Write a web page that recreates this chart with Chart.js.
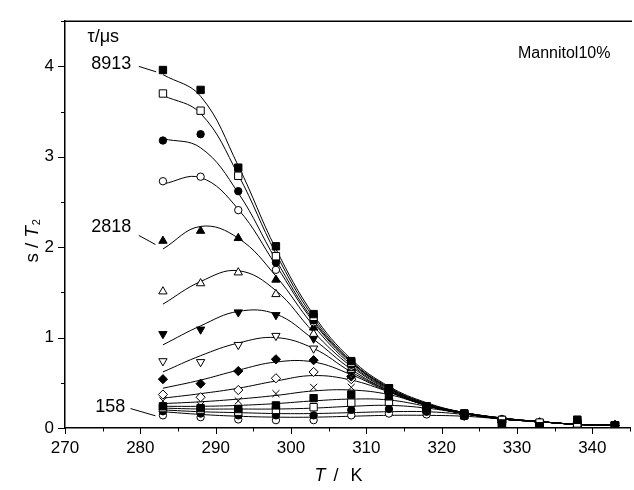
<!DOCTYPE html>
<html>
<head>
<meta charset="utf-8">
<script src="https://cdn.jsdelivr.net/npm/chart.js@4.4.1/dist/chart.umd.min.js"></script>
<style>
  html, body { margin: 0; padding: 0; overflow: hidden; background: #fff; }
  #wrap { width: 640px; height: 490px; }
</style>
</head>
<body>
<div id="wrap"><canvas id="chart" width="640" height="490"></canvas></div>
<script>
// temperatures (K)
const temps = [283, 288, 293, 298, 303, 308, 313, 318, 323, 328, 333, 338, 343];

// measured s/T2, series from top (tau = 8913 us) to bottom (tau = 158 us)
const p01 = [3.96, 3.74, 2.88, 2.01, 1.26, 0.74, 0.44, 0.24, 0.16, 0.05, 0.02, 0.09, 0.03];
const p02 = [3.70, 3.51, 2.79, 1.90, 1.23, 0.72, 0.44, 0.24, 0.16, 0.09, 0.06, 0.05, 0.03];
const p03 = [3.18, 3.25, 2.62, 1.83, 1.19, 0.70, 0.43, 0.23, 0.15, 0.09, 0.06, 0.04, 0.03];
const p04 = [2.73, 2.78, 2.41, 1.75, 1.17, 0.68, 0.43, 0.23, 0.15, 0.09, 0.06, 0.04, 0.03];
const p05 = [2.07, 2.18, 2.10, 1.64, 1.11, 0.66, 0.42, 0.22, 0.15, 0.09, 0.06, 0.04, 0.03];
const p06 = [1.51, 1.60, 1.72, 1.48, 1.04, 0.64, 0.42, 0.22, 0.15, 0.09, 0.06, 0.04, 0.03];
const p07 = [1.04, 1.09, 1.28, 1.25, 0.99, 0.62, 0.41, 0.22, 0.15, 0.09, 0.06, 0.04, 0.03];
const p08 = [0.74, 0.73, 0.92, 1.02, 0.88, 0.60, 0.41, 0.22, 0.15, 0.09, 0.06, 0.04, 0.03];
const p09 = [0.54, 0.49, 0.63, 0.76, 0.75, 0.57, 0.40, 0.22, 0.15, 0.09, 0.06, 0.04, 0.03];
const p10 = [0.37, 0.34, 0.42, 0.55, 0.62, 0.54, 0.40, 0.22, 0.15, 0.09, 0.06, 0.04, 0.03];
const p11 = [0.30, 0.25, 0.30, 0.38, 0.45, 0.45, 0.38, 0.22, 0.14, 0.09, 0.06, 0.04, 0.03];
const p12 = [0.24, 0.22, 0.21, 0.25, 0.33, 0.37, 0.35, 0.21, 0.14, 0.05, 0.02, 0.09, 0.03];
const p13 = [0.22, 0.20, 0.18, 0.20, 0.23, 0.28, 0.29, 0.20, 0.14, 0.08, 0.05, 0.06, 0.03];
const p14 = [0.185, 0.16, 0.14, 0.14, 0.14, 0.20, 0.21, 0.18, 0.13, 0.07, 0.04, 0.04, 0.03];
const p15 = [0.14, 0.12, 0.095, 0.087, 0.087, 0.14, 0.16, 0.15, 0.13, 0.10, 0.06, 0.02, 0.02];

// fitted curves at the same temperatures
const f01 = [3.91, 3.67, 2.90, 1.98, 1.25, 0.76, 0.46, 0.28, 0.17, 0.11, 0.07, 0.04, 0.03];
const f02 = [3.68, 3.48, 2.80, 1.93, 1.22, 0.74, 0.45, 0.27, 0.17, 0.11, 0.07, 0.04, 0.03];
const f03 = [3.20, 3.10, 2.60, 1.86, 1.19, 0.73, 0.44, 0.27, 0.17, 0.11, 0.07, 0.04, 0.03];
const f04 = [2.70, 2.77, 2.42, 1.80, 1.17, 0.72, 0.44, 0.26, 0.17, 0.11, 0.07, 0.04, 0.03];
const f05 = [1.98, 2.23, 2.10, 1.68, 1.13, 0.70, 0.43, 0.26, 0.17, 0.11, 0.07, 0.04, 0.03];
const f06 = [1.37, 1.62, 1.74, 1.52, 1.06, 0.68, 0.42, 0.25, 0.16, 0.10, 0.07, 0.04, 0.03];
const f07 = [0.92, 1.13, 1.29, 1.26, 0.98, 0.65, 0.41, 0.25, 0.16, 0.10, 0.07, 0.04, 0.03];
const f08 = [0.62, 0.80, 0.94, 1.00, 0.88, 0.62, 0.41, 0.25, 0.16, 0.10, 0.07, 0.04, 0.03];
const f09 = [0.44, 0.53, 0.64, 0.73, 0.73, 0.59, 0.40, 0.25, 0.16, 0.10, 0.07, 0.04, 0.03];
const f10 = [0.33, 0.38, 0.44, 0.52, 0.58, 0.53, 0.40, 0.25, 0.16, 0.10, 0.07, 0.04, 0.03];
const f11 = [0.27, 0.29, 0.32, 0.36, 0.41, 0.42, 0.37, 0.25, 0.16, 0.10, 0.07, 0.04, 0.03];
const f12 = [0.24, 0.24, 0.25, 0.27, 0.30, 0.32, 0.31, 0.24, 0.16, 0.10, 0.07, 0.04, 0.03];
const f13 = [0.22, 0.21, 0.21, 0.21, 0.22, 0.24, 0.25, 0.22, 0.16, 0.10, 0.07, 0.04, 0.03];
const f14 = [0.20, 0.18, 0.17, 0.16, 0.16, 0.17, 0.18, 0.18, 0.15, 0.10, 0.07, 0.04, 0.03];
const f15 = [0.18, 0.15, 0.13, 0.12, 0.12, 0.13, 0.14, 0.14, 0.13, 0.10, 0.07, 0.04, 0.03];

const xTicks = [270, 280, 290, 300, 310, 320, 330, 340];
const yTicks = [0, 1, 2, 3, 4];
const tauLabels = ["8913", "2818", "158"];

const points = [p01, p02, p03, p04, p05, p06, p07, p08, p09, p10, p11, p12, p13, p14, p15];
const fits = [f01, f02, f03, f04, f05, f06, f07, f08, f09, f10, f11, f12, f13, f14, f15];

// marker per series: [shape, filled, rotation, radius]
const markers = [
  ["rect", true, 0, 5.2], ["rect", false, 0, 5.2],
  ["circle", true, 0, 3.7], ["circle", false, 0, 3.7],
  ["triangle", true, 0, 4.8], ["triangle", false, 0, 4.8],
  ["triangle", true, 180, 4.8], ["triangle", false, 180, 4.8],
  ["rectRot", true, 0, 4.6], ["rectRot", false, 0, 4.6],
  ["crossRot", false, 0, 5],
  ["rect", true, 0, 5.2], ["rect", false, 0, 5.2],
  ["circle", true, 0, 3.7], ["circle", false, 0, 3.7]
];

const FONT = "'Liberation Sans', Arial, sans-serif";

const toXY = (arr) => arr.map((v, i) => ({ x: temps[i], y: v }));

const datasets = [];
points.forEach((arr, i) => {
  const [shape, filled, rot, r] = markers[i];
  datasets.push({
    data: toXY(arr),
    showLine: false,
    pointStyle: shape,
    rotation: rot,
    pointRadius: r,
    pointBackgroundColor: filled ? "#000" : "#fff",
    pointBorderColor: "#000",
    pointBorderWidth: 1,
    order: 0,
  });
});
fits.forEach((arr) => {
  datasets.push({
    data: toXY(arr),
    showLine: true,
    pointRadius: 0,
    borderColor: "#000",
    borderWidth: 1,
    tension: 0.4,
    order: 1,
  });
});

function drawParts(ctx, parts, x, y) {
  let cx = x;
  parts.forEach((p) => {
    ctx.font = p.font;
    ctx.fillText(p.text, cx, y + (p.dy || 0));
    cx += ctx.measureText(p.text).width + (p.gap || 0);
  });
}
function partsWidth(ctx, parts) {
  let w = 0;
  parts.forEach((p) => {
    ctx.font = p.font;
    w += ctx.measureText(p.text).width + (p.gap || 0);
  });
  return w;
}

const decorations = {
  id: "decorations",
  afterDraw(chart) {
    const { ctx, chartArea: a } = chart;
    const x = chart.scales.x, y = chart.scales.y;
    const px = (v) => x.getPixelForValue(v);
    const py = (v) => y.getPixelForValue(v);
    ctx.save();
    ctx.strokeStyle = "#000";
    ctx.fillStyle = "#000";

    // top frame line
    ctx.lineWidth = 1.5;
    ctx.beginPath();
    ctx.moveTo(a.left, a.top);
    ctx.lineTo(a.right + 2, a.top);
    ctx.stroke();

    // outward ticks, major + minor
    ctx.lineWidth = 1;
    ctx.beginPath();
    x.ticks.forEach((t) => {
      const len = xTicks.includes(t.value) ? 6 : 3.5;
      const p = Math.round(px(t.value)) + 0.5;
      ctx.moveTo(p, a.bottom);
      ctx.lineTo(p, a.bottom + len);
    });
    y.ticks.forEach((t) => {
      const len = yTicks.includes(t.value) ? 7 : 4;
      const p = Math.round(py(t.value)) + 0.5;
      ctx.moveTo(a.left, p);
      ctx.lineTo(a.left - len, p);
    });
    ctx.stroke();

    // axis titles
    ctx.textBaseline = "alphabetic";
    ctx.textAlign = "left";
    const xt = [
      { text: "T", font: "italic 18px " + FONT, gap: 8 },
      { text: "/", font: "18px " + FONT, gap: 12 },
      { text: "K", font: "18px " + FONT },
    ];
    drawParts(ctx, xt, px(306.3) - partsWidth(ctx, xt) / 2, 481);

    const yt = [
      { text: "s", font: "19px " + FONT, gap: 5 },
      { text: "/", font: "19px " + FONT, gap: 5 },
      { text: "T", font: "italic 19px " + FONT, gap: 1 },
      { text: "2", font: "11px " + FONT, dy: 2 },
    ];
    ctx.save();
    ctx.translate(38, py(2.07));
    ctx.rotate(-Math.PI / 2);
    drawParts(ctx, yt, -partsWidth(ctx, yt) / 2, 0);
    ctx.restore();

    // tau annotations
    ctx.font = "18px " + FONT;
    ctx.textBaseline = "middle";
    ctx.textAlign = "left";
    ctx.fillText("\u03c4/\u03bcs", px(273.0), py(4.33));
    ctx.textAlign = "right";
    ctx.fillText(tauLabels[0], px(278.8), py(4.03));
    ctx.fillText(tauLabels[1], px(278.8), py(2.22));
    ctx.fillText(tauLabels[2], px(278.0), py(0.23));
    ctx.font = "16px " + FONT;
    ctx.fillText("Mannitol10%", px(342.4), py(4.14));

    // leader lines
    ctx.lineWidth = 1;
    ctx.beginPath();
    ctx.moveTo(px(279.8), py(4.00)); ctx.lineTo(px(282.1), py(3.94));
    ctx.moveTo(px(279.8), py(2.13)); ctx.lineTo(px(282.0), py(2.03));
    ctx.moveTo(px(278.7), py(0.215)); ctx.lineTo(px(282.0), py(0.135));
    ctx.stroke();
    ctx.restore();
  },
};

new Chart(document.getElementById("chart"), {
  type: "scatter",
  data: { datasets },
  options: {
    responsive: false,
    animation: false,
    layout: { padding: { left: 0, top: 14, right: 3, bottom: 0 } },
    plugins: { legend: { display: false }, tooltip: { enabled: false } },
    scales: {
      x: {
        type: "linear",
        min: 270,
        max: 345,
        afterFit: (s) => { s.height = 62; },
        grid: { display: false, drawTicks: false },
        border: { display: true, color: "#000", width: 1.5 },
        ticks: {
          stepSize: 5,
          autoSkip: false,
          maxRotation: 0,
          padding: 10,
          color: "#000",
          font: { family: FONT, size: 17 },
          callback: (v) => (xTicks.includes(v) ? String(v) : ""),
        },
      },
      y: {
        min: 0,
        max: 4.5,
        afterFit: (s) => { s.width = 65; },
        grid: { display: false, drawTicks: false },
        border: { display: true, color: "#000", width: 1.5 },
        ticks: {
          stepSize: 0.5,
          autoSkip: false,
          padding: 11,
          color: "#000",
          font: { family: FONT, size: 17 },
          callback: (v) => (yTicks.includes(v) ? String(v) : ""),
        },
      },
    },
  },
  plugins: [decorations],
});
</script>
</body>
</html>
